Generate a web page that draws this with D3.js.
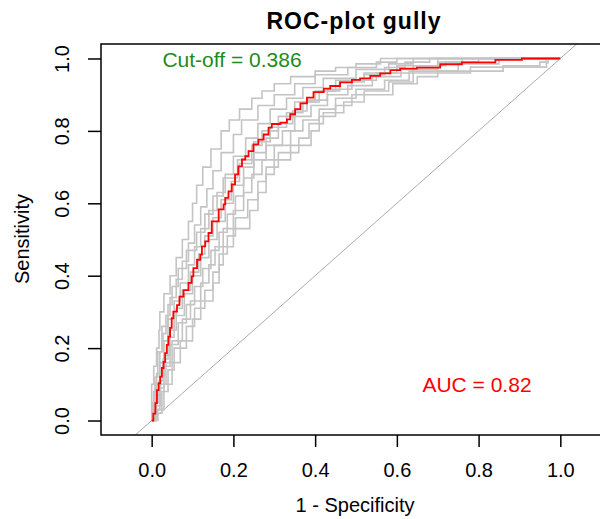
<html>
  <head>
    <meta charset="utf-8" />
    <script src="https://d3js.org/d3.v7.min.js"></script>
    <style>
      body {
        margin: 0;
        background: #fff;
      }
      text {
        font-family: "Liberation Sans", Arial, sans-serif;
      }
    </style>
  </head>
  <body>
    <svg id="chart" width="600" height="519"></svg>
    <script>
      // mean ROC curve (1 - specificity, sensitivity)
      var meanFpr = [0, 0.004, 0.009, 0.013, 0.017, 0.021, 0.025, 0.029, 0.033, 0.037, 0.041, 0.045, 0.049, 0.053, 0.062, 0.068, 0.078, 0.09, 0.098, 0.102, 0.111, 0.119, 0.123, 0.131, 0.139, 0.147, 0.164, 0.176, 0.18, 0.188, 0.196, 0.204, 0.212, 0.221, 0.229, 0.237, 0.249, 0.261, 0.274, 0.286, 0.294, 0.315, 0.331, 0.339, 0.351, 0.364, 0.38, 0.396, 0.421, 0.437, 0.461, 0.49, 0.51, 0.535, 0.559, 0.584, 0.608, 0.649, 0.706, 0.759, 0.841, 0.906, 1.0];
      var meanTpr = [0, 0.019, 0.048, 0.084, 0.103, 0.121, 0.145, 0.162, 0.186, 0.209, 0.232, 0.256, 0.283, 0.301, 0.319, 0.342, 0.36, 0.38, 0.398, 0.421, 0.444, 0.458, 0.481, 0.495, 0.518, 0.55, 0.583, 0.597, 0.615, 0.633, 0.652, 0.68, 0.702, 0.721, 0.73, 0.744, 0.763, 0.776, 0.79, 0.809, 0.819, 0.823, 0.832, 0.846, 0.86, 0.876, 0.892, 0.907, 0.917, 0.924, 0.934, 0.941, 0.945, 0.952, 0.959, 0.968, 0.972, 0.975, 0.984, 0.989, 0.996, 1.0, 1.0];

      // single fold curves: [1 - specificity, sensitivity] at each step
      var fold1 = [[0, 0], [0, 0.05], [0, 0.1], [0.005, 0.15], [0.012, 0.2], [0.018, 0.25], [0.02, 0.3], [0.03, 0.35], [0.045, 0.4], [0.06, 0.45], [0.075, 0.5], [0.09, 0.55], [0.1, 0.6], [0.11, 0.65], [0.125, 0.7], [0.145, 0.75], [0.17, 0.8], [0.19, 0.83], [0.215, 0.86], [0.245, 0.89], [0.27, 0.91], [0.3, 0.93], [0.34, 0.95], [0.4, 0.965], [0.45, 0.975], [0.5, 0.985], [0.56, 1], [1, 1]];
      var fold2 = [[0, 0], [0.002, 0.03], [0.005, 0.08], [0.012, 0.13], [0.02, 0.19], [0.028, 0.24], [0.035, 0.29], [0.045, 0.34], [0.06, 0.39], [0.075, 0.44], [0.09, 0.49], [0.105, 0.54], [0.12, 0.59], [0.135, 0.64], [0.15, 0.69], [0.17, 0.74], [0.2, 0.79], [0.22, 0.83], [0.26, 0.87], [0.3, 0.9], [0.35, 0.93], [0.4, 0.955], [0.48, 0.975], [0.55, 0.99], [0.6, 1], [1, 1]];
      var fold3 = [[0, 0], [0.004, 0.04], [0.01, 0.1], [0.02, 0.16], [0.03, 0.22], [0.04, 0.28], [0.055, 0.33], [0.07, 0.38], [0.09, 0.43], [0.105, 0.48], [0.12, 0.53], [0.14, 0.58], [0.16, 0.63], [0.18, 0.68], [0.2, 0.73], [0.23, 0.78], [0.26, 0.82], [0.29, 0.86], [0.33, 0.89], [0.37, 0.92], [0.42, 0.945], [0.5, 0.97], [0.58, 0.985], [0.64, 1], [1, 1]];
      var fold4 = [[0, 0], [0.006, 0.02], [0.012, 0.07], [0.02, 0.12], [0.03, 0.18], [0.045, 0.25], [0.06, 0.31], [0.075, 0.36], [0.095, 0.41], [0.115, 0.46], [0.13, 0.51], [0.15, 0.56], [0.17, 0.61], [0.195, 0.66], [0.215, 0.71], [0.245, 0.76], [0.27, 0.8], [0.31, 0.84], [0.35, 0.88], [0.4, 0.91], [0.45, 0.94], [0.52, 0.96], [0.6, 0.98], [0.7, 1], [1, 1]];
      var fold5 = [[0, 0], [0.01, 0.05], [0.018, 0.11], [0.028, 0.17], [0.04, 0.23], [0.055, 0.29], [0.08, 0.35], [0.1, 0.4], [0.12, 0.45], [0.14, 0.5], [0.16, 0.55], [0.18, 0.6], [0.2, 0.65], [0.225, 0.7], [0.25, 0.74], [0.28, 0.78], [0.31, 0.82], [0.345, 0.855], [0.38, 0.885], [0.43, 0.915], [0.49, 0.94], [0.55, 0.96], [0.64, 0.98], [0.72, 0.99], [0.8, 1], [1, 1]];
      var fold6 = [[0, 0], [0.008, 0.03], [0.02, 0.09], [0.03, 0.15], [0.045, 0.21], [0.065, 0.27], [0.085, 0.32], [0.105, 0.37], [0.125, 0.42], [0.145, 0.47], [0.165, 0.52], [0.185, 0.57], [0.205, 0.62], [0.225, 0.67], [0.25, 0.72], [0.28, 0.76], [0.32, 0.8], [0.35, 0.84], [0.39, 0.87], [0.43, 0.9], [0.48, 0.925], [0.54, 0.95], [0.61, 0.97], [0.7, 0.99], [0.76, 1], [1, 1]];
      var fold7 = [[0, 0], [0.01, 0.04], [0.022, 0.1], [0.035, 0.16], [0.05, 0.22], [0.075, 0.28], [0.095, 0.33], [0.12, 0.38], [0.14, 0.43], [0.155, 0.48], [0.175, 0.53], [0.2, 0.58], [0.225, 0.63], [0.245, 0.68], [0.27, 0.72], [0.3, 0.76], [0.34, 0.8], [0.37, 0.83], [0.41, 0.86], [0.45, 0.89], [0.5, 0.915], [0.57, 0.94], [0.63, 0.965], [0.75, 0.985], [0.85, 1], [1, 1]];
      var fold8 = [[0, 0], [0.01, 0.02], [0.025, 0.08], [0.04, 0.14], [0.055, 0.2], [0.085, 0.26], [0.105, 0.31], [0.13, 0.36], [0.15, 0.41], [0.165, 0.46], [0.185, 0.51], [0.205, 0.56], [0.235, 0.61], [0.26, 0.66], [0.28, 0.7], [0.31, 0.74], [0.36, 0.78], [0.385, 0.82], [0.42, 0.85], [0.47, 0.88], [0.52, 0.91], [0.58, 0.935], [0.64, 0.96], [0.78, 0.976], [0.966, 0.988], [0.97, 1], [1, 1]];
      var fold9 = [[0, 0], [0.015, 0.03], [0.03, 0.1], [0.05, 0.16], [0.07, 0.22], [0.1, 0.28], [0.12, 0.33], [0.15, 0.38], [0.165, 0.43], [0.175, 0.48], [0.2, 0.53], [0.24, 0.58], [0.26, 0.63], [0.28, 0.68], [0.3, 0.72], [0.34, 0.76], [0.39, 0.8], [0.41, 0.84], [0.45, 0.87], [0.49, 0.9], [0.59, 0.93], [0.65, 0.95], [0.7, 0.965], [0.86, 0.98], [0.95, 0.99], [0.965, 1], [1, 1]];
      var fold10 = [[0, 0], [0.003, 0.05], [0.008, 0.12], [0.015, 0.19], [0.025, 0.26], [0.04, 0.32], [0.05, 0.37], [0.065, 0.42], [0.085, 0.47], [0.11, 0.52], [0.13, 0.57], [0.15, 0.62], [0.175, 0.67], [0.21, 0.72], [0.25, 0.77], [0.29, 0.81], [0.33, 0.85], [0.37, 0.88], [0.41, 0.91], [0.46, 0.935], [0.52, 0.955], [0.57, 0.975], [0.62, 0.99], [0.68, 1], [1, 1]];
      var folds = [fold1, fold2, fold3, fold4, fold5, fold6, fold7, fold8, fold9, fold10];

      var ticks = [0, 0.2, 0.4, 0.6, 0.8, 1.0];
      var auc = 0.82;
      var cutoff = 0.386;

      var svg = d3.select("#chart"),
        margin = { top: 44, bottom: 84, left: 101, right: -11 },
        width = +svg.attr("width"),
        height = +svg.attr("height");

      var x = d3
        .scaleLinear()
        .domain([-0.124, 1.124])
        .range([margin.left, width - margin.right]);
      var y = d3
        .scaleLinear()
        .domain([-0.04, 1.04])
        .range([height - margin.bottom, margin.top]);

      svg
        .append("clipPath")
        .attr("id", "clip")
        .append("rect")
        .attr("x", x.range()[0])
        .attr("y", y.range()[1])
        .attr("width", x.range()[1] - x.range()[0])
        .attr("height", y.range()[0] - y.range()[1]);

      var plot = svg.append("g").attr("clip-path", "url(#clip)");

      // diagonal reference line
      plot
        .append("line")
        .attr("x1", x(-0.2))
        .attr("y1", y(-0.2))
        .attr("x2", x(1.2))
        .attr("y2", y(1.2))
        .attr("stroke", "#aaaaaa")
        .attr("stroke-width", 1);

      var stepLine = d3
        .line()
        .x((d) => x(d[0]))
        .y((d) => y(d[1]))
        .curve(d3.curveStepAfter);

      plot
        .selectAll("path.fold")
        .data(folds)
        .enter()
        .append("path")
        .attr("class", "fold")
        .attr("fill", "none")
        .attr("stroke", "#c4c4c4")
        .attr("stroke-width", 1.6)
        .attr("d", stepLine);

      var meanData = meanFpr.map((f, i) => [f, meanTpr[i]]);
      plot
        .append("path")
        .attr("fill", "none")
        .attr("stroke", "#ff0000")
        .attr("stroke-width", 1.8)
        .attr("d", stepLine(meanData));

      // box
      svg
        .append("rect")
        .attr("x", x.range()[0])
        .attr("y", y.range()[1])
        .attr("width", x.range()[1] - x.range()[0])
        .attr("height", y.range()[0] - y.range()[1])
        .attr("fill", "none")
        .attr("stroke", "#000")
        .attr("stroke-width", 1.5);

      var xAxis = svg
        .append("g")
        .attr("transform", "translate(0," + y.range()[0] + ")")
        .call(d3.axisBottom(x).tickValues(ticks).tickSize(12).tickFormat(d3.format(".1f")));
      xAxis.select(".domain").remove();
      xAxis.selectAll("line").attr("stroke-width", 1.5);
      xAxis
        .selectAll("text")
        .attr("y", 42)
        .attr("dy", null)
        .attr("fill", "#000")
        .style("font-size", "20px")
        .style("font-family", "'Liberation Sans', Arial, sans-serif");

      var yAxis = svg
        .append("g")
        .attr("transform", "translate(" + x.range()[0] + ",0)")
        .call(d3.axisLeft(y).tickValues(ticks).tickSize(13).tickFormat(d3.format(".1f")));
      yAxis.select(".domain").remove();
      yAxis.selectAll("line").attr("stroke-width", 1.5);
      yAxis
        .selectAll("text")
        .attr("x", null)
        .attr("dy", null)
        .attr("transform", "translate(-32,0) rotate(-90)")
        .attr("text-anchor", "middle")
        .attr("fill", "#000")
        .style("font-size", "20px")
        .style("font-family", "'Liberation Sans', Arial, sans-serif");

      // title and axis labels
      svg
        .append("text")
        .attr("x", 354)
        .attr("y", 29)
        .attr("text-anchor", "middle")
        .style("font-size", "23px")
        .style("font-weight", "bold")
        .style("letter-spacing", "1px")
        .text("ROC-plot gully");

      svg
        .append("text")
        .attr("x", 355)
        .attr("y", 512)
        .attr("text-anchor", "middle")
        .style("font-size", "20px")
        .text("1 - Specificity");

      svg
        .append("text")
        .attr("transform", "translate(29,239) rotate(-90)")
        .attr("text-anchor", "middle")
        .style("font-size", "20px")
        .text("Sensitivity");

      svg
        .append("text")
        .attr("x", 232)
        .attr("y", 67)
        .attr("text-anchor", "middle")
        .attr("fill", "#1c8c1c")
        .style("font-size", "21px")
        .text("Cut-off = " + cutoff);

      svg
        .append("text")
        .attr("x", 477)
        .attr("y", 392)
        .attr("text-anchor", "middle")
        .attr("fill", "#ff0000")
        .style("font-size", "21px")
        .text("AUC = " + auc);
    </script>
  </body>
</html>
